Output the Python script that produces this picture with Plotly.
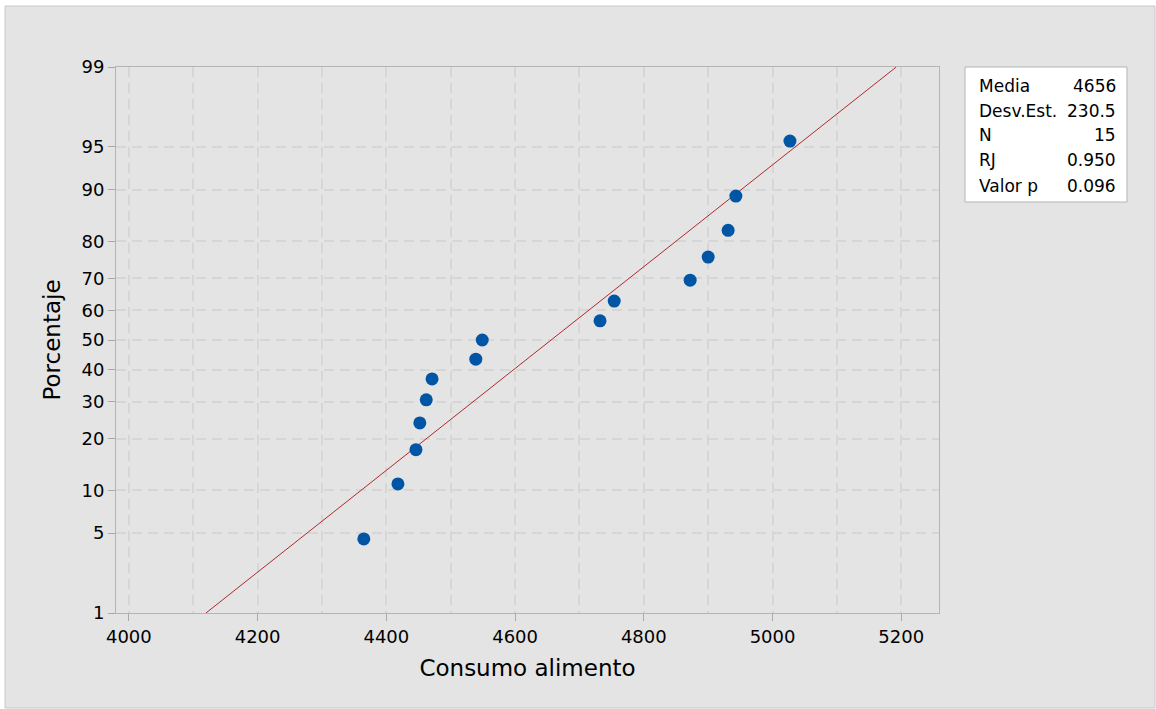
import plotly.graph_objects as go
from statistics import NormalDist

# ---- data ----
consumo = [4365, 4418, 4446, 4452, 4462, 4471, 4539, 4549,
           4732, 4754, 4872, 4900, 4931, 4943, 5027]
porcentaje = [4.5, 11.0, 17.5, 24.0, 30.5, 37.0, 43.5, 50.0,
              56.5, 63.0, 69.5, 76.0, 82.5, 89.0, 95.5]
y_tick_labels = [1, 5, 10, 20, 30, 40, 50, 60, 70, 80, 90, 95, 99]
x_tick_vals = [4000, 4200, 4400, 4600, 4800, 5000, 5200]
media = 4656
desv_est = 230.5
stat_labels = ["Media", "Desv.Est.", "N", "RJ", "Valor p"]
stat_values = ["4656", "230.5", "15", "0.950", "0.096"]

nd = NormalDist()
def z(p):
    return nd.inv_cdf(p / 100.0)

# fitted line from mean / sd across 1..99 %
line_p = [1, 99]
line_x = [media + desv_est * z(p) for p in line_p]
line_y = [z(p) for p in line_p]

FONT = "DejaVu Sans"
fig = go.Figure()

fig.add_trace(go.Scatter(x=line_x, y=line_y, mode="lines",
                         line=dict(color="#b02a2e", width=1),
                         hoverinfo="skip", showlegend=False))
fig.add_trace(go.Scatter(x=consumo, y=[z(p) for p in porcentaje], mode="markers",
                         marker=dict(color="#0055a5", size=13, line=dict(width=0)),
                         showlegend=False))

L, R, T, B = 116, 217, 67, 96
W, H = 1156, 709
pw = W - L - R
ph = H - T - B
def px(xp):
    return (xp - L) / pw
def py(yp):
    return (H - B - yp) / ph

shapes = [
    # outer frame
    dict(type="rect", xref="paper", yref="paper", x0=px(5), x1=px(1155), y0=py(708), y1=py(6),
         fillcolor="#e4e4e4", line=dict(color="#c8c8c8", width=1), layer="below"),
    # stats box
    dict(type="rect", xref="paper", yref="paper", x0=px(965), x1=px(1127), y0=py(202), y1=py(67),
         fillcolor="white", line=dict(color="#b4b4b4", width=1)),
]

annotations = []
row_y = [86, 111, 135, 160, 186]
for lab, val, yy in zip(stat_labels, stat_values, row_y):
    annotations.append(dict(x=px(977), y=py(yy), xref="paper", yref="paper", text=lab,
                            showarrow=False, xanchor="left", yanchor="middle",
                            font=dict(family=FONT, size=17, color="black")))
    annotations.append(dict(x=px(1118), y=py(yy), xref="paper", yref="paper", text=val,
                            showarrow=False, xanchor="right", yanchor="middle",
                            font=dict(family=FONT, size=17, color="black")))

fig.update_layout(
    width=W, height=H,
    margin=dict(l=L, r=R, t=T, b=B),
    paper_bgcolor="white",
    plot_bgcolor="white",
    font=dict(family=FONT, color="black"),
    shapes=shapes,
    annotations=annotations,
    showlegend=False,
)

fig.update_xaxes(
    range=[3980, 5258.6],
    tickvals=x_tick_vals,
    ticktext=[str(v) for v in x_tick_vals],
    ticks="outside", ticklen=7, tickcolor="#a8a8a8",
    tickfont=dict(family=FONT, size=18, color="black"),
    showgrid=True, gridcolor="#d6d6d6", gridwidth=2, griddash="10px,6px",
    minor=dict(dtick=100, tick0=4000, showgrid=True, gridcolor="#d6d6d6",
               gridwidth=2, griddash="10px,6px", ticks=""),
    showline=True, linecolor="#b4b4b4", linewidth=1, mirror=True,
    zeroline=False,
    title=dict(text="Consumo alimento", font=dict(family=FONT, size=23, color="black"),
               standoff=14),
)

fig.update_yaxes(
    range=[z(1), z(99)],
    tickvals=[z(p) for p in y_tick_labels],
    ticktext=[str(p) for p in y_tick_labels],
    ticks="outside", ticklen=7, tickcolor="#a8a8a8",
    tickfont=dict(family=FONT, size=18, color="black"),
    showgrid=True, gridcolor="#d6d6d6", gridwidth=2, griddash="10px,6px",
    showline=True, linecolor="#b4b4b4", linewidth=1, mirror=True,
    zeroline=False,
    title=dict(text="Porcentaje", font=dict(family=FONT, size=23, color="black"),
               standoff=14),
)

fig.write_html("out.html")
